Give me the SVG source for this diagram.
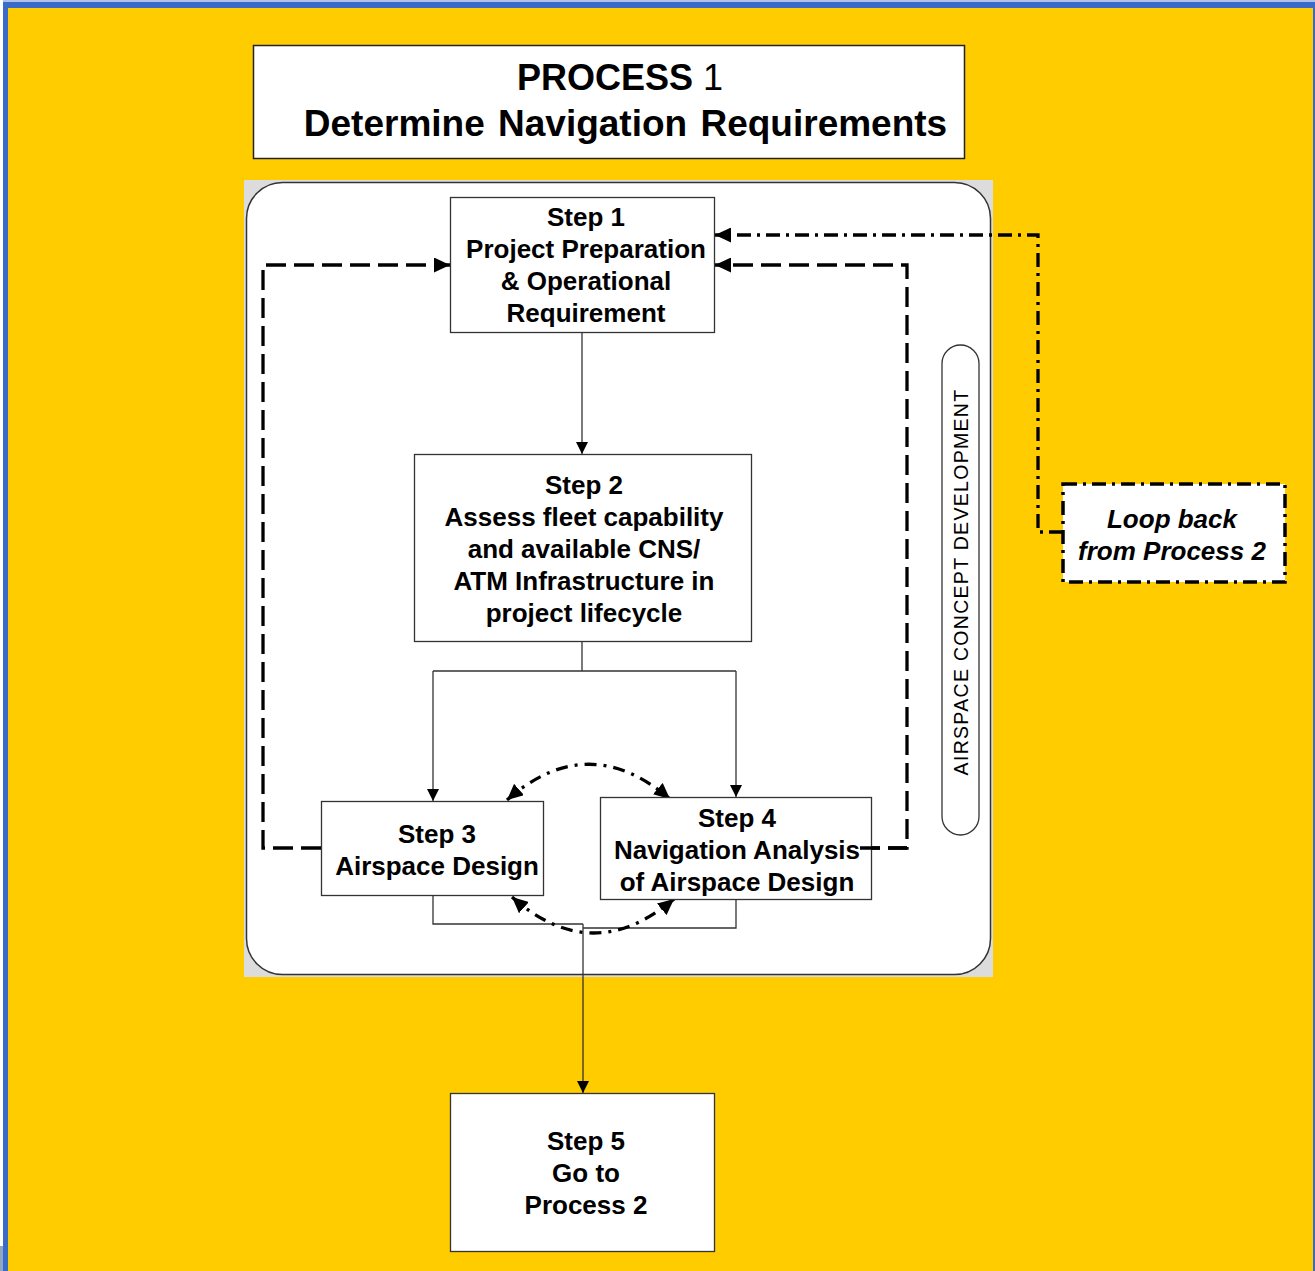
<svg xmlns="http://www.w3.org/2000/svg" width="1315" height="1271" viewBox="0 0 1315 1271">
<style>
.box{fill:#fff;stroke:#333;stroke-width:1.3}
.t{font-family:"Liberation Sans",Arial,sans-serif;font-weight:bold;font-size:26px;fill:#000;text-anchor:middle}
.thin{fill:none;stroke:#333;stroke-width:1.3}
.dash{fill:none;stroke:#000;stroke-width:3.3;stroke-dasharray:20 8}
.dd{fill:none;stroke:#000;stroke-width:3.3;stroke-dasharray:14 6 3 6}
.ddc{fill:none;stroke:#000;stroke-width:3.3;stroke-dasharray:12 7 3 7}
</style>
<defs>
<marker id="a" markerUnits="userSpaceOnUse" markerWidth="12" markerHeight="12" viewBox="0 0 12 12" refX="12" refY="6" orient="auto"><path d="M0,0 L12,6 L0,12 z" fill="#000"/></marker>
<marker id="b" markerUnits="userSpaceOnUse" markerWidth="16" markerHeight="15" viewBox="0 0 16 15" refX="16" refY="7.5" orient="auto-start-reverse"><path d="M0,0 L16,7.5 L0,15 z" fill="#000"/></marker>
</defs>
<rect width="1315" height="1271" fill="#fff"/>
<rect x="3" y="0" width="1312" height="1271" fill="#3A6BC9"/>
<rect x="3" y="0" width="1312" height="2" fill="#B0C2EA"/>
<rect x="8" y="8" width="1305" height="1263" fill="#FFCC00"/>
<rect x="0" y="1246" width="3" height="25" fill="#8FA6C4"/>

<g id="title">
<rect x="253.5" y="45.5" width="711" height="113" fill="#fff" stroke="#222" stroke-width="1.5"/>
<text class="t" x="620" y="90" style="font-size:36px"><tspan>PROCESS</tspan><tspan font-weight="normal"> 1</tspan></text>
<text class="t" x="625.5" y="136" style="font-size:37px;word-spacing:3px">Determine Navigation Requirements</text>
</g>

<g id="panel">
<rect x="244" y="180" width="749" height="797" fill="#DCDCDC"/>
<rect x="246.5" y="182.5" width="744" height="792" rx="36" fill="#fff" stroke="#333" stroke-width="1.5"/>
</g>

<g id="concept">
<rect x="942" y="345" width="37" height="490" rx="18.5" fill="#fff" stroke="#333" stroke-width="1.3"/>
<text transform="translate(968,582) rotate(-90)" style="font-family:'Liberation Sans',Arial,sans-serif;font-size:19.5px;letter-spacing:1.3px;text-anchor:middle">AIRSPACE CONCEPT DEVELOPMENT</text>
</g>

<g id="connectors">
<path class="thin" d="M582,333 V454" marker-end="url(#a)"/>
<path class="thin" d="M582,642 V671 M433,671 H736"/>
<path class="thin" d="M433,671 V801" marker-end="url(#a)"/>
<path class="thin" d="M736,671 V797" marker-end="url(#a)"/>
<path class="thin" d="M433,896 V924 H583 M736,900 V928 H583"/>
<path class="thin" d="M583,924 V1093" marker-end="url(#a)"/>
<path class="dash" d="M321,848 H263 V265 H450" marker-end="url(#b)"/>
<path class="dash" d="M860,848 H907 V265 H715" marker-end="url(#b)"/>
<path class="dd" d="M1063,532 H1038 V235 H715" marker-end="url(#b)"/>
<path class="ddc" d="M507,800 Q588,729 670,799" marker-start="url(#b)" marker-end="url(#b)"/>
<path class="ddc" d="M512,897 Q592,968 674,899" marker-start="url(#b)" marker-end="url(#b)"/>
</g>

<g id="step1">
<rect class="box" x="450.5" y="197.5" width="264" height="135"/>
<text class="t" x="586" y="226">Step 1</text>
<text class="t" x="586" y="258">Project Preparation</text>
<text class="t" x="586" y="290">&amp; Operational</text>
<text class="t" x="586" y="322">Requirement</text>
</g>

<g id="step2">
<rect class="box" x="414.5" y="454.5" width="337" height="187"/>
<text class="t" x="584" y="494">Step 2</text>
<text class="t" x="584" y="526">Assess fleet capability</text>
<text class="t" x="584" y="558">and available CNS/</text>
<text class="t" x="584" y="590">ATM Infrastructure in</text>
<text class="t" x="584" y="622">project lifecycle</text>
</g>

<g id="step3">
<rect class="box" x="321.5" y="801.5" width="222" height="94"/>
<text class="t" x="437" y="843">Step 3</text>
<text class="t" x="437" y="875">Airspace Design</text>
</g>

<g id="step4">
<rect class="box" x="600.5" y="797.5" width="271" height="102"/>
<text class="t" x="737" y="827">Step 4</text>
<text class="t" x="737" y="859">Navigation Analysis</text>
<text class="t" x="737" y="891">of Airspace Design</text>
</g>
<path d="M860,848 H907" fill="none" stroke="#000" stroke-width="3.3" stroke-dasharray="20 8"/>

<g id="step5">
<rect class="box" x="450.5" y="1093.5" width="264" height="158"/>
<text class="t" x="586" y="1150">Step 5</text>
<text class="t" x="586" y="1182">Go to</text>
<text class="t" x="586" y="1214">Process 2</text>
</g>

<g id="loopback">
<rect x="1063" y="484" width="222" height="98" fill="#fff" stroke="#000" stroke-width="3.5" stroke-dasharray="14 6 3 6"/>
<text class="t" x="1172" y="528" font-style="italic">Loop back</text>
<text class="t" x="1172" y="560" font-style="italic">from Process 2</text>
</g>
</svg>
